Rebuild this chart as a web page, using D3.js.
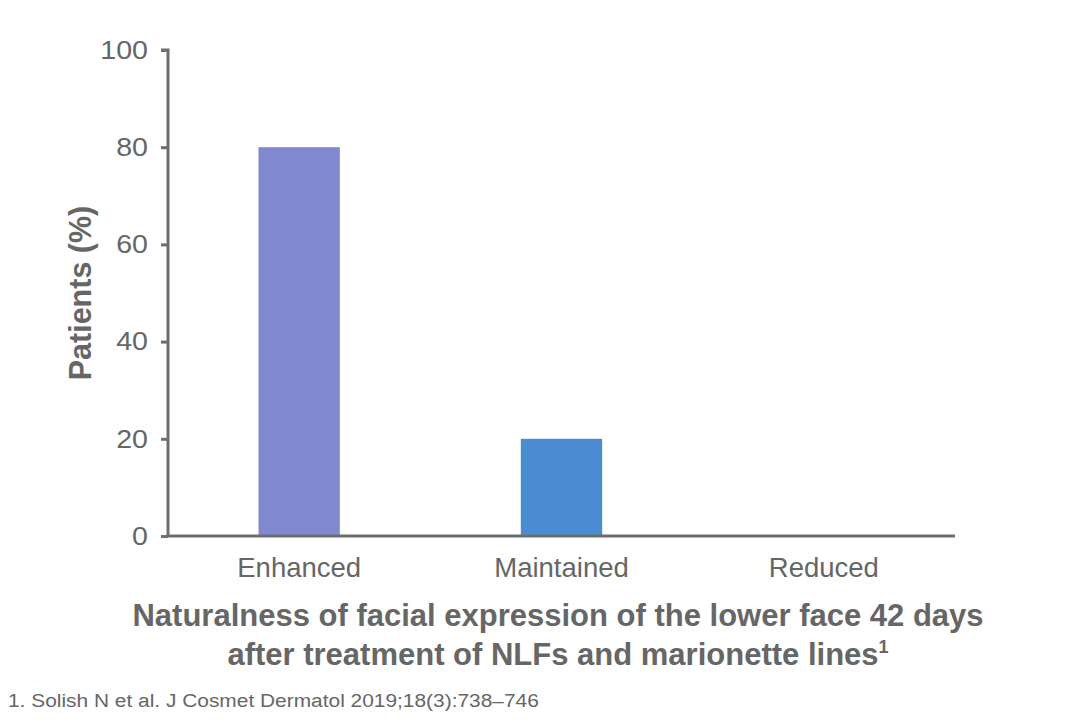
<!DOCTYPE html>
<html>
<head>
<meta charset="utf-8">
<script src="https://cdn.jsdelivr.net/npm/d3@7"></script>
<style>
    body { margin: 0; background: #fff; }
    text { font-family: "Liberation Sans", Arial, sans-serif; fill: #666; }
</style>
</head>
<body>
<script>
// chart data
var categories = ["Enhanced", "Maintained", "Reduced"];
var values = [80, 20, 0];
var barColors = ["#8088d0", "#4a8bd2", "#4a8bd2"];
var yTicks = [0, 20, 40, 60, 80, 100];

var width = 1080,
    height = 720;

// tick labels in the reference are a touch wider than Liberation Sans
var tickStretch = 1.1;

var svg = d3.select("body")
    .append("svg")
    .attr("width", width)
    .attr("height", height);

// plot area
var plotLeft = 168, plotRight = 955, plotTop = 50, plotBottom = 536;

var x = d3.scaleBand()
    .domain(categories)
    .range([plotLeft, plotRight])
    .paddingInner(0.69)
    .paddingOuter(0.345);

var y = d3.scaleLinear()
    .domain([0, 100])
    .range([plotBottom, plotTop]);

// bars
svg.selectAll(".bar")
    .data(categories)
    .enter()
    .append("rect")
    .attr("class", "bar")
    .attr("x", function(d){ return x(d); })
    .attr("y", function(d, i){ return y(values[i]); })
    .attr("width", x.bandwidth())
    .attr("height", function(d, i){ return plotBottom - y(values[i]); })
    .attr("fill", function(d, i){ return barColors[i]; });

// y axis
var yAxis = svg.append("g")
    .attr("transform", "translate(" + plotLeft + ",0)")
    .call(d3.axisLeft(y).tickValues(yTicks).tickSize(7).tickPadding(13));
yAxis.select(".domain").attr("stroke", "#6e6e6e").attr("stroke-width", 3)
    .attr("d", "M-7," + plotTop + "H0V" + plotBottom);
yAxis.selectAll(".tick line").attr("stroke", "#6e6e6e").attr("stroke-width", 3);
yAxis.selectAll(".tick text")
    .attr("x", -20 / tickStretch)
    .attr("transform", "scale(" + tickStretch + ",1)")
    .style("font-size", "26px")
    .style("font-family", "Liberation Sans, Arial, sans-serif")
    .attr("fill", "#666");

// x axis
var xAxis = svg.append("g")
    .attr("transform", "translate(0," + plotBottom + ")")
    .call(d3.axisBottom(x).tickSize(0).tickPadding(21));
xAxis.select(".domain").attr("stroke", "#6e6e6e").attr("stroke-width", 3)
    .attr("d", "M" + (plotLeft - 1.5) + ",0H" + plotRight);
xAxis.selectAll(".tick text")
    .style("font-size", "27.5px")
    .style("font-family", "Liberation Sans, Arial, sans-serif")
    .attr("fill", "#666");

// y axis title
svg.append("text")
    .attr("transform", "translate(91,293) rotate(-90)")
    .attr("text-anchor", "middle")
    .style("font-size", "30.5px")
    .style("font-weight", "bold")
    .text("Patients (%)");

// x axis title, two lines
var title = svg.append("text")
    .attr("text-anchor", "middle")
    .style("font-size", "31px")
    .style("font-weight", "bold");
title.append("tspan")
    .attr("x", 558).attr("y", 626)
    .text("Naturalness of facial expression of the lower face 42 days");
title.append("tspan")
    .attr("x", 558).attr("y", 665)
    .text("after treatment of NLFs and marionette lines");
title.append("tspan")
    .attr("dy", -12)
    .style("font-size", "18px")
    .text("1");

// footnote
svg.append("text")
    .attr("transform", "translate(8,707) scale(1.1,1)")
    .style("font-size", "19px")
    .text("1. Solish N et al. J Cosmet Dermatol 2019;18(3):738\u2013746");
</script>
</body>
</html>
